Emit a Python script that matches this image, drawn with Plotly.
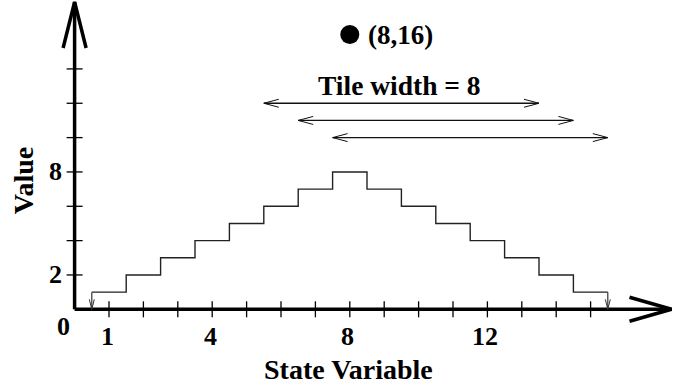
import plotly.graph_objects as go

# ---------------- data ----------------
step_left = [0.5, 1.5, 2.5, 3.5, 4.5, 5.5, 6.5, 7.5, 8.5, 9.5, 10.5, 11.5, 12.5, 13.5, 14.5]
step_value = [1, 2, 3, 4, 5, 6, 7, 8, 7, 6, 5, 4, 3, 2, 1]
step_right_end = 15.5

tile_start = [5.5, 6.5, 7.5]
tile_y = [12, 11, 10]
tile_width = 8

point_x = [8]
point_y = [16]
point_label = "(8,16)"

x_ticks = list(range(1, 16))
x_tick_labels = {1: "1", 4: "4", 8: "8", 12: "12"}
y_ticks = [2, 4, 6, 8, 10, 12, 14]
y_tick_labels = {2: "2", 8: "8"}

# ---------------- layout scale ----------------
W, H = 673, 387
X0PX, Y0PX = 74.6, 309.3     # pixel position of origin
XU, YU = 34.4, 17.17         # pixels per unit
xr = [-X0PX / XU, (W - X0PX) / XU]
yr = [(Y0PX - H) / YU, Y0PX / YU]


def dx(p):
    return p / XU


def dy(p):
    return p / YU


FONT = "Liberation Serif"
fig = go.Figure()


def line(xs, ys, width=1.3, color="#111"):
    fig.add_trace(go.Scatter(x=xs, y=ys, mode="lines", hoverinfo="skip",
                             line=dict(color=color, width=width), showlegend=False))


# axes
x_end = xr[1] - dx(1.5)
y_end = yr[1] - dy(2)
line([0, x_end], [0, 0], width=3.5, color="black")
line([0, 0], [0, y_end], width=3.5, color="black")
# axis arrowheads (open chevrons)
line([x_end - dx(42), x_end, x_end - dx(42)], [dy(12), 0, -dy(12)], width=3.5, color="black")
line([-dx(11.5), 0, dx(11.5)], [y_end - dy(46), y_end, y_end - dy(46)], width=3.5, color="black")

# ticks
for t in x_ticks:
    line([t, t], [-dy(8), dy(8)], width=1.3, color="black")
for t in y_ticks:
    line([-dx(8), dx(8)], [t, t], width=1.3, color="black")

# staircase
fig.add_trace(go.Scatter(x=step_left + [step_right_end], y=step_value + [step_value[-1]],
                         mode="lines", line=dict(color="#222", width=1.4, shape="hv"),
                         hoverinfo="skip", showlegend=False))
# drop arrows at both ends
for xe, ye in [(step_left[0], step_value[0]), (step_right_end, step_value[-1])]:
    line([xe, xe], [ye, 0], width=1.2, color="#333")
    line([xe - dx(2.5), xe, xe + dx(2.5)], [dy(10), 0, dy(10)], width=1.0, color="#333")

# tile width arrows
for s, ty in zip(tile_start, tile_y):
    e = s + tile_width
    line([s, e], [ty, ty], width=1.3, color="#111")
    line([s + dx(15), s, s + dx(15)], [ty + dy(4), ty, ty - dy(4)], width=1.0, color="#111")
    line([e - dx(15), e, e - dx(15)], [ty + dy(4), ty, ty - dy(4)], width=1.0, color="#111")

# point
fig.add_trace(go.Scatter(x=point_x, y=point_y, mode="markers",
                         marker=dict(color="black", size=19), hoverinfo="skip", showlegend=False))

ann = []


def text(x, y, s, size=26, xanchor="center", angle=0):
    ann.append(dict(x=x, y=y, xref="x", yref="y", text="<b>" + s + "</b>", showarrow=False,
                    xanchor=xanchor, yanchor="middle", textangle=angle,
                    font=dict(family=FONT, size=size, color="black")))


text(point_x[0] + dx(16), point_y[0], point_label, size=27, xanchor="left")
text(tile_start[0] + tile_width / 2 - dx(2), tile_y[0] + dy(18), "Tile width = 8", size=27.5)

for t, s in x_tick_labels.items():
    text(t - dx(2), -dy(27), s, size=26)
for t, s in y_tick_labels.items():
    text(-dx(19.5), t, s, size=26)
text(-dx(11), -dy(17), "0", size=26)

text(8 - dx(1), -dy(60), "State Variable", size=28)
text(-dx(51), 7.5, "Value", size=28, angle=-90)

fig.update_layout(
    width=W, height=H, margin=dict(l=0, r=0, t=0, b=0),
    paper_bgcolor="white", plot_bgcolor="white",
    xaxis=dict(range=xr, visible=False, fixedrange=True),
    yaxis=dict(range=yr, visible=False, fixedrange=True),
    annotations=ann, showlegend=False,
)

fig.write_html("out.html", config={"displayModeBar": False},
               post_script="document.body.style.margin='0';document.body.style.overflow='hidden';")
